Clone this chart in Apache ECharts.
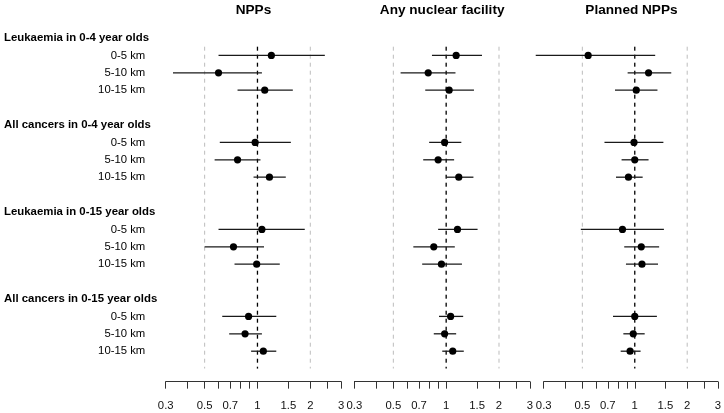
<!DOCTYPE html>
<html><head><meta charset="utf-8">
<script src="https://cdn.jsdelivr.net/npm/echarts@6/dist/echarts.min.js"></script>
<style>html,body{margin:0;padding:0;background:#fff}#c{width:724px;height:413px}</style>
</head><body><div id="c"></div>
<script>
// ---- data ----
const panelTitles = ['NPPs', 'Any nuclear facility', 'Planned NPPs'];
const groups = ['Leukaemia in 0-4 year olds', 'All cancers in 0-4 year olds',
                'Leukaemia in 0-15 year olds', 'All cancers in 0-15 year olds'];
const distances = ['0-5 km', '5-10 km', '10-15 km'];

// estimates and 95% CI, in order: group1 (0-5,5-10,10-15), group2, group3, group4
const nppEst = [1.20, 0.60, 1.10, 0.97, 0.77, 1.17, 1.06, 0.73, 0.99, 0.89, 0.85, 1.08];
const nppLo  = [0.60, 0.33, 0.77, 0.61, 0.57, 0.95, 0.60, 0.50, 0.74, 0.63, 0.69, 0.92];
const nppHi  = [2.42, 1.06, 1.59, 1.55, 1.04, 1.45, 1.86, 1.09, 1.34, 1.28, 1.06, 1.28];

const anyEst = [1.14, 0.79, 1.04, 0.98, 0.90, 1.18, 1.16, 0.85, 0.94, 1.06, 0.98, 1.09];
const anyLo  = [0.83, 0.55, 0.76, 0.80, 0.74, 1.00, 0.90, 0.65, 0.73, 0.91, 0.85, 0.95];
const anyHi  = [1.60, 1.13, 1.44, 1.22, 1.11, 1.43, 1.51, 1.12, 1.23, 1.25, 1.14, 1.26];

const planEst = [0.54, 1.20, 1.02, 0.99, 1.00, 0.92, 0.85, 1.09, 1.10, 1.00, 0.98, 0.94];
const planLo  = [0.27, 0.91, 0.77, 0.67, 0.84, 0.78, 0.49, 0.87, 0.89, 0.75, 0.86, 0.83];
const planHi  = [1.31, 1.62, 1.35, 1.46, 1.20, 1.11, 1.47, 1.38, 1.36, 1.34, 1.14, 1.08];

const tickValues  = [0.3, 0.4, 0.5, 0.6, 0.7, 0.8, 0.9, 1, 1.5, 2, 2.5, 3];
const labelValues = [0.3, 0.5, 0.7, 1, 1.5, 2, 3];
const refLines = [0.5, 1, 2];

// ---- layout ----
const FONT = '"Liberation Sans", Arial, sans-serif';
const gridLeft = [165.7, 354.4, 543.7];
const gridWidth = 175.5;
const yMin = -1, yMax = 19.75;
const rowStep = 17.4;
const gridTop = 38 - rowStep;           // row 0 at y=38
const gridHeight = (yMax - yMin) * rowStep;
const refSpan = [0.5, 19];

const panels = [[nppEst, nppLo, nppHi], [anyEst, anyLo, anyHi], [planEst, planLo, planHi]];

// row indices
const headerRows = groups.map((g, i) => i * 5);
const itemRows = [];
groups.forEach((g, gi) => distances.forEach((d, di) => itemRows.push(gi * 5 + 1 + di)));

const labelData = [];
groups.forEach((g, gi) => {
  labelData.push([headerRows[gi], g, 1]);
  distances.forEach((d, di) => labelData.push([gi * 5 + 1 + di, d, 0]));
});

const grid = [], xAxis = [], yAxis = [], series = [], title = [];
panels.forEach((p, i) => {
  grid.push({left: gridLeft[i], top: gridTop, width: gridWidth, height: gridHeight});
  xAxis.push({
    type: 'log', logBase: 10, gridIndex: i, min: 0.3, max: 3, position: 'bottom',
    axisLine: {show: true, onZero: false, lineStyle: {color: '#333', width: 1}},
    axisTick: {show: true, inside: false, length: 7, customValues: tickValues, lineStyle: {color: '#333', width: 1}},
    axisLabel: {customValues: labelValues, margin: 19, fontSize: 11.3, fontFamily: FONT, color: '#111',
      formatter: v => String(+(+v).toFixed(2))},
    splitLine: {show: false}
  });
  yAxis.push({type: 'value', gridIndex: i, min: yMin, max: yMax, inverse: true, show: false});
  title.push({text: panelTitles[i], left: gridLeft[i] + gridWidth / 2, top: 3, padding: 0, textAlign: 'center',
    textStyle: {fontFamily: FONT, fontWeight: 'bold', fontSize: 13.6, color: '#000'}});

  series.push({
    type: 'custom', xAxisIndex: i, yAxisIndex: i, clip: false, silent: true,
    data: refLines.map(v => [v]),
    renderItem: (params, api) => {
      const v = api.value(0);
      const a = api.coord([v, refSpan[0]]), b = api.coord([v, refSpan[1]]);
      return {type: 'line', shape: {x1: a[0], y1: a[1], x2: b[0], y2: b[1]},
        style: {stroke: v === 1 ? '#000' : '#bdbdbd', lineWidth: v === 1 ? 1.3 : 1, lineDash: [4, 4]}};
    }
  });
  series.push({
    type: 'custom', xAxisIndex: i, yAxisIndex: i, clip: false, silent: true,
    data: itemRows.map((r, k) => [p[1][k], p[2][k], p[0][k], r]),
    encode: {x: [0, 1, 2], y: 3},
    renderItem: (params, api) => {
      const r = api.value(3);
      const a = api.coord([api.value(0), r]), b = api.coord([api.value(1), r]), c = api.coord([api.value(2), r]);
      return {type: 'group', children: [
        {type: 'line', shape: {x1: a[0], y1: a[1], x2: b[0], y2: b[1]}, style: {stroke: '#1a1a1a', lineWidth: 1.3}},
        {type: 'circle', shape: {cx: c[0], cy: c[1], r: 3.6}, style: {fill: '#000'}}
      ]};
    }
  });
});

series.push({
  type: 'custom', xAxisIndex: 0, yAxisIndex: 0, clip: false, silent: true,
  data: labelData,
  encode: {y: 0},
  renderItem: (params, api) => {
    const r = api.value(0);
    const d = labelData[params.dataIndex];
    const p = api.coord([0.3, r]);
    const isHeader = d[2] === 1;
    return {type: 'text', x: isHeader ? 4 : p[0] - 20.5, y: p[1],
      style: {text: d[1], fill: '#000', align: isHeader ? 'left' : 'right', verticalAlign: 'middle',
        font: (isHeader ? 'bold 11.4px ' : '11.3px ') + FONT}};
  }
});

const chart = echarts.init(document.getElementById('c'));
chart.setOption({animation: false, backgroundColor: '#fff', title, grid, xAxis, yAxis, series});
</script></body></html>
